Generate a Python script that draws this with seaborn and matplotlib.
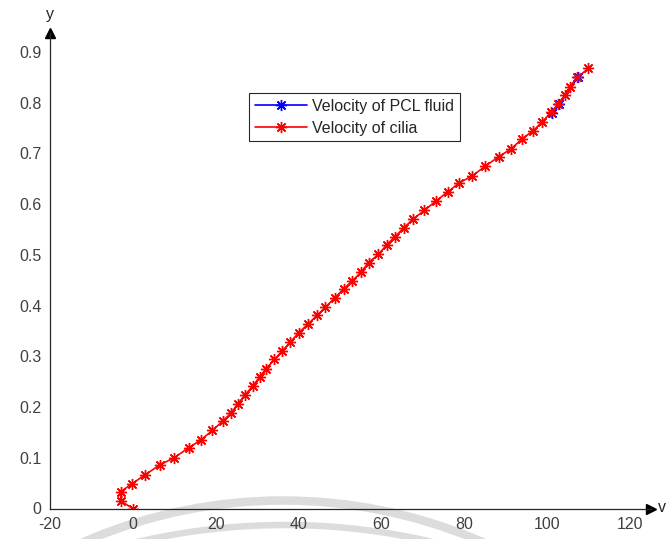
import matplotlib
matplotlib.use("Agg")
import matplotlib.pyplot as plt
import matplotlib.patches as mpatches
import seaborn as sns

# Trajectory of the cilia tip velocity (v, y)
x_cilia = [0, -2.96, -2.96, -0.17, 2.9, 6.5, 10.0, 13.5, 16.4, 19.2, 21.8, 23.8,
           25.4, 27.0, 29.0, 30.6, 32.2, 34.2, 36.1, 38.0, 40.0, 42.2, 44.5, 46.5,
           48.7, 50.9, 52.9, 55.1, 56.9, 59.3, 61.3, 63.3, 65.5, 67.7, 70.4, 73.3,
           76.0, 78.8, 82.0, 85.1, 88.4, 91.3, 94.0, 96.7, 98.9, 101.0, 102.7,
           104.3, 105.5, 107.3, 110.0]
y_cilia = [0, 0.015, 0.033, 0.049, 0.066, 0.086, 0.100, 0.120, 0.135, 0.154,
           0.173, 0.189, 0.207, 0.223, 0.242, 0.259, 0.276, 0.294, 0.311, 0.328,
           0.346, 0.363, 0.381, 0.397, 0.415, 0.433, 0.448, 0.466, 0.485, 0.501,
           0.520, 0.536, 0.554, 0.571, 0.588, 0.607, 0.624, 0.642, 0.656, 0.675,
           0.694, 0.709, 0.729, 0.745, 0.763, 0.781, 0.798, 0.815, 0.832, 0.850,
           0.868]

# PCL fluid velocity
x_pcl = [101.3, 103.0, 107.5]
y_pcl = [0.779, 0.797, 0.851]

series_names = ["Velocity of PCL fluid", "Velocity of cilia"]

x_ticks = [-20, 0, 20, 40, 60, 80, 100, 120]
x_tick_labels = ["-20", "0", "20", "40", "60", "80", "100", "120"]
y_ticks = [0, 0.1, 0.2, 0.3, 0.4, 0.5, 0.6, 0.7, 0.8, 0.9]
y_tick_labels = ["0", "0.1", "0.2", "0.3", "0.4", "0.5", "0.6", "0.7", "0.8", "0.9"]

sns.set_style("white")
plt.rcParams["font.family"] = ["Liberation Sans", "DejaVu Sans"]

W, H = 667, 539
fig = plt.figure(figsize=(W / 100, H / 100), dpi=100)
fig.patch.set_facecolor("white")

# faint background arcs
bg = fig.add_axes([0, 0, 1, 1], zorder=0)
bg.set_xlim(0, W)
bg.set_ylim(H, 0)
bg.axis("off")
for cx, cy, r, lw in [(283, 1000.5, 500, 8.5), (285, 1175, 650, 6.5)]:
    bg.add_patch(mpatches.Circle((cx, cy), r, fill=False, ec="#dcdcdc",
                                 lw=lw * 72 / 100))

# main axes, placed in pixel units
left_px, right_px, bottom_px, top_px = 50, 651, 508.5, 33
ax = fig.add_axes([left_px / W, (H - bottom_px) / H,
                   (right_px - left_px) / W, (bottom_px - top_px) / H], zorder=1)
ax.set_facecolor("none")

asterisk = (8, 2, 0)
common = dict(marker=asterisk, markersize=8, markeredgewidth=1.0, linewidth=1.2,
              sort=False, estimator=None, ax=ax)
sns.lineplot(x=x_pcl, y=y_pcl, color="blue", markeredgecolor="blue",
             label=series_names[0], **common)
sns.lineplot(x=x_cilia, y=y_cilia, color="red", markeredgecolor="red",
             label=series_names[1], **common)

ax.set_xlim(-20, 125.1)
ax.set_ylim(0, 0.9375)
ax.set_xticks(x_ticks)
ax.set_xticklabels(x_tick_labels)
ax.set_yticks(y_ticks)
ax.set_yticklabels(y_tick_labels)
ax.set_xlabel("")
ax.set_ylabel("")

for side in ("top", "right"):
    ax.spines[side].set_visible(False)
for side in ("left", "bottom"):
    ax.spines[side].set_color("#262626")
    ax.spines[side].set_linewidth(0.9)
ax.tick_params(direction="in", length=4, width=0.8, color="#262626",
               labelcolor="#404040", labelsize=11.5, pad=6)

# arrowheads at the ends of the axes
ax.plot([1], [0], marker=">", ms=7, color="black", transform=ax.transAxes,
        clip_on=False)
ax.plot([0], [1], marker="^", ms=7, color="black", transform=ax.transAxes,
        clip_on=False)
fig.text(50 / W, 1 - 15 / H, "y", ha="center", va="center", fontsize=11.5,
         color="#262626")
fig.text(658 / W, 1 - 508 / H, "v", ha="left", va="center", fontsize=11.5,
         color="#262626")

leg = ax.legend(loc="upper left", bbox_to_anchor=(249 / W, 1 - 93 / H),
                bbox_transform=fig.transFigure, borderaxespad=0, frameon=True,
                fancybox=False, edgecolor="#262626", framealpha=1,
                fontsize=11.5, handlelength=3.3, handletextpad=0.3,
                borderpad=0.35, labelspacing=0.45, numpoints=1)
leg.get_frame().set_linewidth(0.8)
for t in leg.get_texts():
    t.set_color("#262626")

fig.savefig("out.png", dpi=100)
